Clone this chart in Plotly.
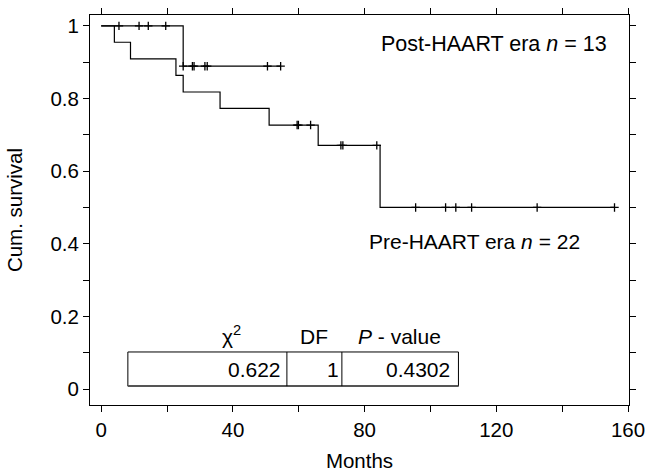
import plotly.graph_objects as go

# ---- data ----
pre_times = [0, 4.0, 8.9, 22.7, 24.9, 36.1, 51.0, 65.9, 84.7, 155.9]
pre_surv = [1.0, 0.955, 0.909, 0.864, 0.818, 0.773, 0.727, 0.671, 0.5, 0.5]
pre_cens_t = [59.5, 59.9, 63.6, 72.8, 73.4, 83.7, 95.5, 104.6, 107.7, 112.5, 132.4, 155.9]
pre_cens_s = [0.727, 0.727, 0.727, 0.671, 0.671, 0.671, 0.5, 0.5, 0.5, 0.5, 0.5, 0.5]

post_times = [0, 24.9, 54.6]
post_surv = [1.0, 0.889, 0.889]
post_cens_t = [5.4, 11.5, 14.3, 19.6, 24.9, 27.7, 28.2, 31.5, 32.2, 50.5, 54.5]
post_cens_s = [1.0, 1.0, 1.0, 1.0, 0.889, 0.889, 0.889, 0.889, 0.889, 0.889, 0.889]

x_tickvals = [0, 20, 40, 60, 80, 100, 120, 140, 160]
x_ticktext = ["0", " ", "40", " ", "80", " ", "120", " ", "160"]
y_tickvals = [0, 0.1, 0.2, 0.3, 0.4, 0.5, 0.6, 0.7, 0.8, 0.9, 1.0]
y_ticktext = ["0", " ", "0.2", " ", "0.4", " ", "0.6", " ", "0.8", " ", "1"]

chi2 = "0.622"
df_val = "1"
p_val = "0.4302"

FONT = "Liberation Sans, Arial, sans-serif"

fig = go.Figure()
for t, s in [(pre_times, pre_surv), (post_times, post_surv)]:
    fig.add_trace(go.Scatter(x=t, y=s, mode="lines", line_shape="hv",
                             line=dict(color="black", width=1.2), showlegend=False,
                             hoverinfo="skip"))
for t, s in [(pre_cens_t, pre_cens_s), (post_cens_t, post_cens_s)]:
    fig.add_trace(go.Scatter(x=t, y=s, mode="markers",
                             marker=dict(symbol="cross-thin", size=6,
                                         line=dict(color="black", width=1.3)),
                             showlegend=False, hoverinfo="skip"))

# statistics table
tx0, tx1, tx2, tx3 = 8.1, 56.4, 73.1, 108.5
ty0, ty1 = 0.008, 0.102
fig.add_shape(type="rect", xref="x", yref="y", x0=tx0, x1=tx3, y0=ty0, y1=ty1,
              line=dict(color="black", width=1), fillcolor="white", layer="above")
fig.add_shape(type="line", xref="x", yref="y", x0=tx0, x1=tx3, y0=ty0, y1=ty0,
              line=dict(color="#555555", width=2), layer="above")
for xv in (tx1, tx2):
    fig.add_shape(type="line", xref="x", yref="y", x0=xv, x1=xv, y0=ty0, y1=ty1,
                  line=dict(color="black", width=1), layer="above")

ann_font = dict(family=FONT, size=21, color="black")
anns = [
    dict(x=39.7, y=0.150, text="χ<sup>2</sup>", xanchor="center", yanchor="middle"),
    dict(x=64.6, y=0.146, text="DF", xanchor="center", yanchor="middle"),
    dict(x=90.7, y=0.146, text="<i>P</i> - value", xanchor="center", yanchor="middle"),
    dict(x=55.2, y=0.055, text=chi2, xanchor="right", yanchor="middle"),
    dict(x=70.4, y=0.055, text=df_val, xanchor="center", yanchor="middle"),
    dict(x=106.6, y=0.055, text=p_val, xanchor="right", yanchor="middle"),
    dict(x=119.2, y=0.950, text="<span style='font-size:21.5px'>Post-HAART era <i>n</i> = 13</span>",
         xanchor="center", yanchor="middle"),
    dict(x=113.5, y=0.405, text="Pre-HAART era <i>n</i> = 22", xanchor="center", yanchor="middle"),
]
for a in anns:
    fig.add_annotation(xref="x", yref="y", showarrow=False, font=ann_font, **a)

axis_common = dict(showline=True, linecolor="black", linewidth=1, mirror="allticks",
                   ticks="outside", ticklen=6, tickwidth=1, tickcolor="black",
                   showgrid=False, zeroline=False, automargin=False,
                   tickfont=dict(family=FONT, size=20.5, color="black"))

fig.update_xaxes(range=[-3.4, 160.3], tickvals=x_tickvals, ticktext=x_ticktext,
                 title=dict(text="Months", font=dict(family=FONT, size=20.5, color="black"),
                            standoff=14),
                 **axis_common)
fig.update_yaxes(range=[-0.044, 1.030], tickvals=y_tickvals, ticktext=y_ticktext,
                 title=dict(text="Cum. survival", font=dict(family=FONT, size=20.5, color="black"),
                            standoff=22),
                 **axis_common)

fig.update_layout(width=648, height=472, margin=dict(l=90, r=19, t=15, b=67),
                  plot_bgcolor="white", paper_bgcolor="white",
                  font=dict(family=FONT, size=20, color="black"))

fig.write_html("out.html", config={"displayModeBar": False},
               post_script="document.documentElement.style.margin='0';"
                           "document.body.style.margin='0';document.body.style.padding='0';"
                           "document.documentElement.style.overflow='hidden';"
                           "document.body.style.overflow='hidden';")
